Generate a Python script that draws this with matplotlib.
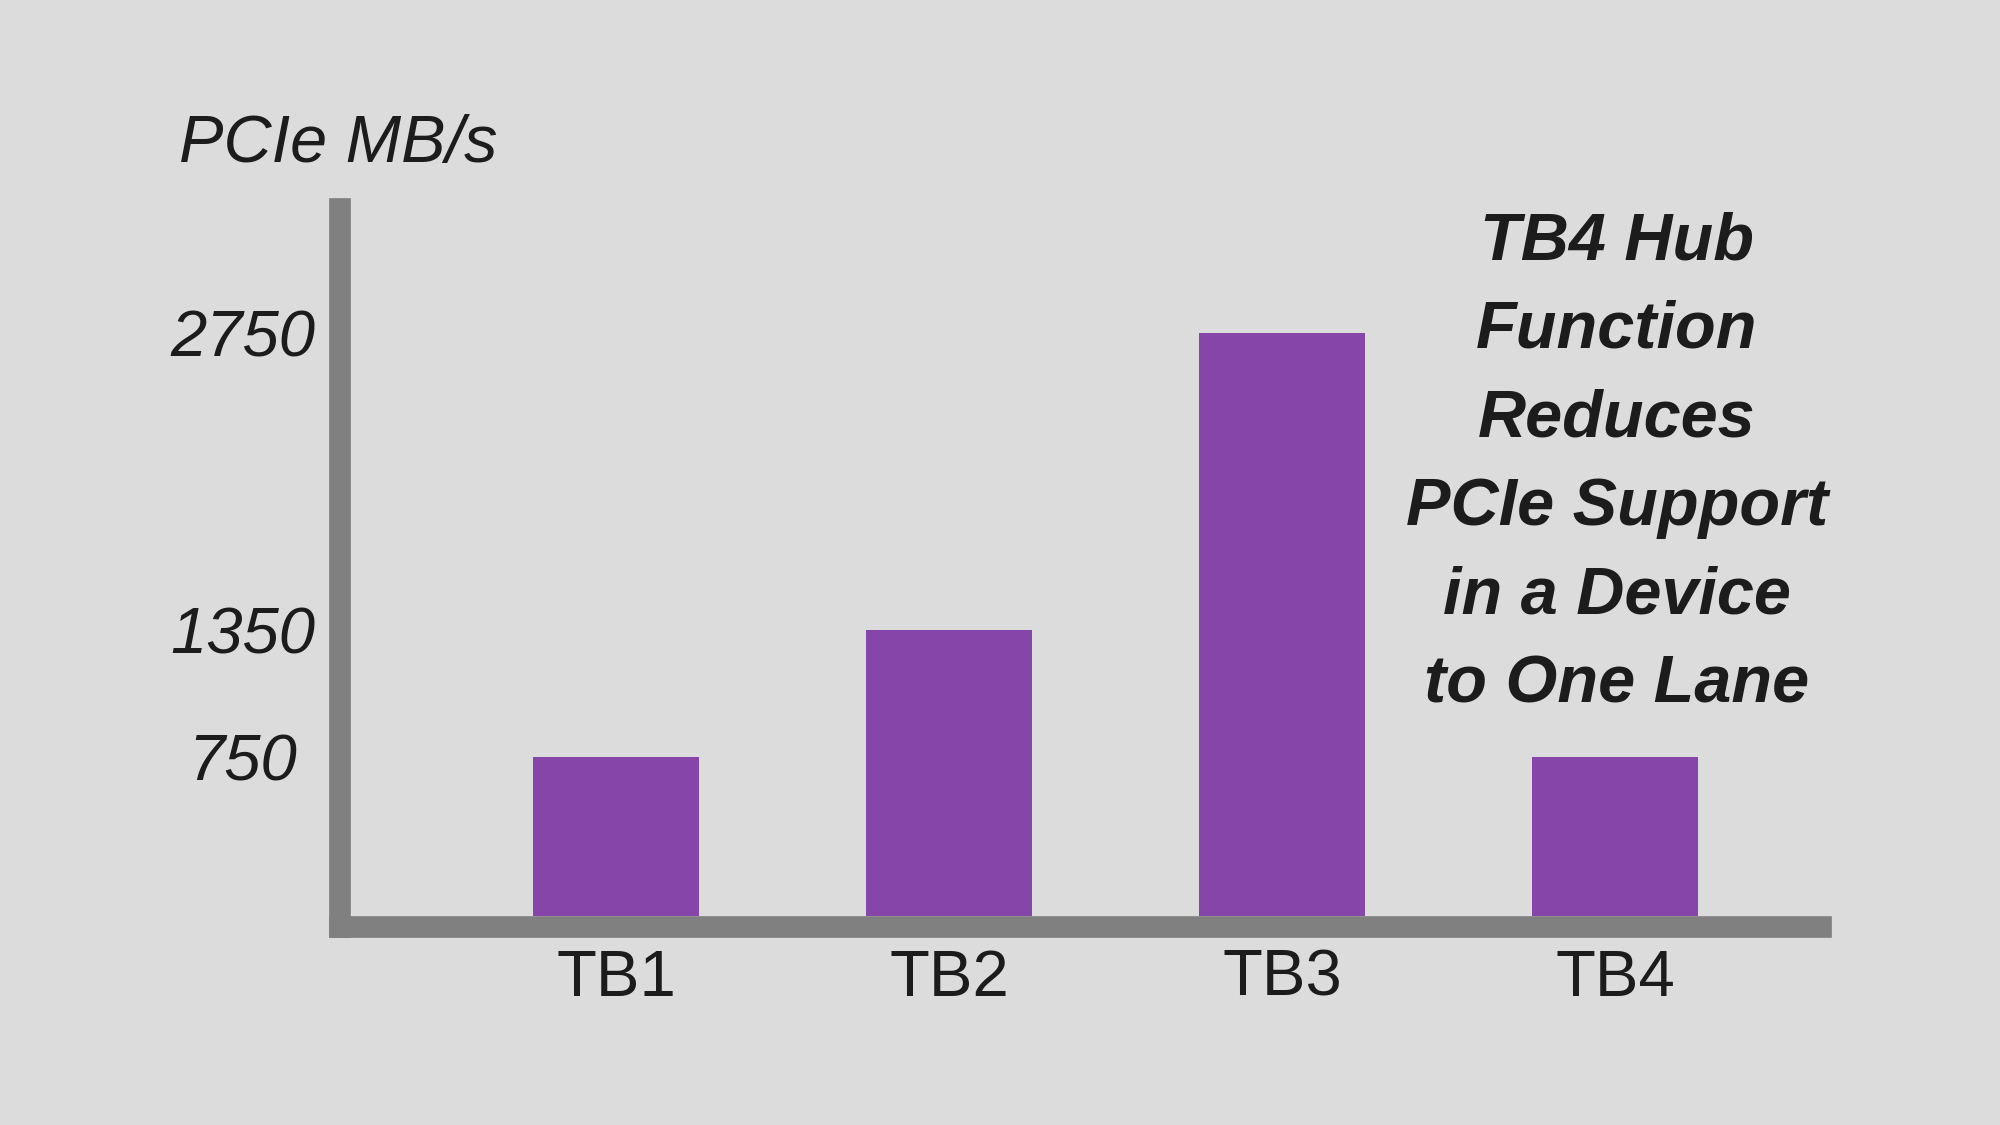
import matplotlib
matplotlib.use('Agg')
import matplotlib.pyplot as plt

# data
generations = ["TB1", "TB2", "TB3", "TB4"]
pcie_mbps = [750, 1350, 2750, 750]
y_ticks = [750, 1350, 2750]
y_label = "PCIe MB/s"
note_lines = ["TB4 Hub", "Function", "Reduces", "PCIe Support", "in a Device", "to One Lane"]

bg = "#dcdcdc"
axis_grey = "#808080"
bar_purple = "#8645a9"
ink = "#1c1c1c"

plt.rcParams['font.family'] = ['Liberation Sans', 'DejaVu Sans']

fig = plt.figure(figsize=(20, 11.25), dpi=100, facecolor=bg)
ax = fig.add_axes([0.17, 0.1763, 0.7403, 0.6382])
ax.set_facecolor(bg)

x = list(range(len(generations)))
ax.bar(x, pcie_mbps, width=0.5, color=bar_purple, zorder=1)

ax.set_xlim(-0.829, 3.617)
ax.set_ylim(-51, 3336)

for side in ['top', 'right']:
  ax.spines[side].set_visible(False)
for side in ['left', 'bottom']:
  ax.spines[side].set_linewidth(15.6)
  ax.spines[side].set_color(axis_grey)
  ax.spines[side].set_capstyle('projecting')

ax.set_xticks(x)
ax.set_xticklabels(generations, fontsize=47, color=ink)
ax.tick_params(axis='x', length=0, pad=16)

ax.set_yticks(y_ticks)
ax.set_yticklabels([str(v) for v in y_ticks], fontsize=47, style='italic', color=ink)
ax.tick_params(axis='y', length=0, pad=70)
for lbl in ax.get_yticklabels():
  lbl.set_horizontalalignment('center')

ax.set_ylabel(y_label, rotation=0, fontsize=48, style='italic', color=ink,
              ha='left', va='baseline')
ax.yaxis.set_label_coords(-0.109, 1.065)

# note at the right, one line at a time
for i, line in enumerate(note_lines):
  y_px = 259 + i * 88.7
  fig.text(0.8085, 1 - y_px / 1125, line, fontsize=48, style='italic',
           weight='bold', color=ink, ha='center', va='baseline')

fig.savefig('out.png', facecolor=bg)
